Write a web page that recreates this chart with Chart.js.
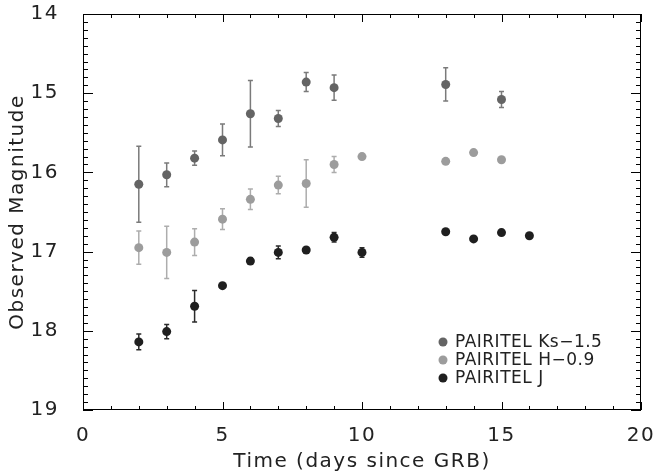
<!DOCTYPE html>
<html>
<head>
<meta charset="utf-8">
<script src="https://cdn.jsdelivr.net/npm/chart.js@4.4.1/dist/chart.umd.min.js"></script>
<style>
  html, body { margin: 0; padding: 0; background: #fff; }
</style>
</head>
<body>
<canvas id="lc" width="657" height="476"></canvas>
<script>
// Ks band (shifted by -1.5)
const ksDays = [2, 3, 4, 5, 6, 7, 8, 9, 13, 15];
const ksMag = [16.15, 16.03, 15.82, 15.59, 15.26, 15.32, 14.86, 14.93, 14.89, 15.08];
const ksErr = [0.48, 0.15, 0.09, 0.20, 0.42, 0.10, 0.12, 0.16, 0.21, 0.10];

// H band (shifted by -0.9)
const hDays = [2, 3, 4, 5, 6, 7, 8, 9, 10, 13, 14, 15];
const hMag = [16.95, 17.01, 16.88, 16.59, 16.34, 16.16, 16.14, 15.90, 15.80, 15.86, 15.75, 15.84];
const hErr = [0.21, 0.33, 0.17, 0.13, 0.13, 0.11, 0.30, 0.10, 0, 0, 0, 0];

// J band
const jDays = [2, 3, 4, 5, 6, 7, 8, 9, 10, 13, 14, 15, 16];
const jMag = [18.14, 18.01, 17.69, 17.43, 17.12, 17.01, 16.98, 16.82, 17.01, 16.75, 16.84, 16.76, 16.80];
const jErr = [0.10, 0.09, 0.20, 0, 0.04, 0.08, 0, 0.06, 0.06, 0, 0, 0, 0];

const seriesLabels = ['PAIRITEL Ks\u22121.5', 'PAIRITEL H\u22120.9', 'PAIRITEL J'];
const xTicks = [0, 5, 10, 15, 20];
const yTicks = [14, 15, 16, 17, 18, 19];

const FONT = 'DejaVu Sans';
const INK = '#222';

function pts(days, mags, errs) {
    return days.map((d, i) => ({ x: d, y: mags[i], err: errs[i] }));
}

// error bars drawn under the points, via the chart scales
const errorBars = {
    id: 'errorBars',
    beforeDatasetsDraw(chart) {
        const ctx = chart.ctx;
        const xs = chart.scales.x, ys = chart.scales.y;
        chart.data.datasets.forEach(ds => {
            ctx.save();
            ctx.strokeStyle = ds.errColor;
            ctx.lineWidth = 1.5;
            ds.data.forEach(p => {
                if (!p.err) return;
                const px = xs.getPixelForValue(p.x);
                const y1 = ys.getPixelForValue(p.y - p.err);
                const y2 = ys.getPixelForValue(p.y + p.err);
                ctx.beginPath();
                ctx.moveTo(px, y1); ctx.lineTo(px, y2);
                ctx.moveTo(px - 2.5, y1); ctx.lineTo(px + 2.5, y1);
                ctx.moveTo(px - 2.5, y2); ctx.lineTo(px + 2.5, y2);
                ctx.stroke();
            });
            ctx.restore();
        });
    }
};

// box around the plot with inward major/minor ticks on all sides
const frame = {
    id: 'frame',
    beforeDraw(chart) {
        chart.ctx.letterSpacing = '1.5px';
    },
    afterDraw(chart) {
        const ctx = chart.ctx;
        const { left, right, top, bottom } = chart.chartArea;
        const xs = chart.scales.x, ys = chart.scales.y;
        ctx.save();
        ctx.strokeStyle = '#000';
        ctx.lineWidth = 1;
        ctx.strokeRect(left + 0.5, top + 0.5, right - left - 1, bottom - top - 1);
        ctx.beginPath();
        for (let v = 0; v <= 20; v++) {
            const px = Math.round(xs.getPixelForValue(v)) + 0.5;
            const len = v % 5 === 0 ? 8 : 4;
            ctx.moveTo(px, bottom); ctx.lineTo(px, bottom - len);
            ctx.moveTo(px, top); ctx.lineTo(px, top + len);
        }
        for (let k = 140; k <= 190; k++) {
            const py = Math.round(ys.getPixelForValue(k / 10)) + 0.5;
            const len = k % 10 === 0 ? 10 : 5;
            ctx.moveTo(left, py); ctx.lineTo(left + len, py);
            ctx.moveTo(right, py); ctx.lineTo(right - len, py);
        }
        ctx.stroke();

        // legend inside the plot
        const lx = left + 360, ly = top + 328;
        ctx.font = '17px "' + FONT + '"';
        ctx.letterSpacing = '0.5px';
        ctx.textBaseline = 'middle';
        ctx.textAlign = 'left';
        chart.data.datasets.forEach((ds, i) => {
            const y = ly + i * 18;
            ctx.fillStyle = ds.backgroundColor;
            ctx.beginPath();
            ctx.arc(lx, y, 4.5, 0, Math.PI * 2);
            ctx.fill();
            ctx.fillStyle = INK;
            ctx.fillText(ds.label, lx + 12, y + 1);
        });
        ctx.restore();
    }
};

const datasets = [
    { label: seriesLabels[0], data: pts(ksDays, ksMag, ksErr), backgroundColor: '#646464', errColor: '#7a7a7a' },
    { label: seriesLabels[1], data: pts(hDays, hMag, hErr), backgroundColor: '#9c9c9c', errColor: '#adadad' },
    { label: seriesLabels[2], data: pts(jDays, jMag, jErr), backgroundColor: '#1f1f1f', errColor: '#2a2a2a' }
].map(ds => Object.assign(ds, { pointRadius: 4.5, pointBorderWidth: 0, borderColor: ds.backgroundColor, showLine: false }));

new Chart(document.getElementById('lc').getContext('2d'), {
    type: 'scatter',
    data: { datasets },
    plugins: [errorBars, frame],
    options: {
        responsive: false,
        animation: false,
        devicePixelRatio: 1,
        layout: { padding: { top: 14, right: 16, left: 0, bottom: 0 } },
        plugins: { legend: { display: false }, tooltip: { enabled: false } },
        scales: {
            x: {
                type: 'linear', min: 0, max: 20,
                afterBuildTicks: s => { s.ticks = xTicks.map(v => ({ value: v })); },
                afterFit: s => { s.height = 66; s.paddingLeft = 0; s.paddingRight = 0; },
                grid: { display: false, drawTicks: false },
                border: { display: false },
                ticks: { padding: 14, color: INK, font: { family: FONT, size: 20 } },
                title: { display: true, text: 'Time (days since GRB)', color: INK, padding: { top: 0, bottom: 2 }, font: { family: FONT, size: 20 } }
            },
            y: {
                type: 'linear', min: 14, max: 19, reverse: true,
                afterBuildTicks: s => { s.ticks = yTicks.map(v => ({ value: v })); },
                afterFit: s => { s.width = 83; s.paddingTop = 0; s.paddingBottom = 0; },
                grid: { display: false, drawTicks: false },
                border: { display: false },
                ticks: { padding: 24, color: INK, font: { family: FONT, size: 20 } },
                title: { display: true, text: 'Observed Magnitude', color: INK, padding: { top: 6, bottom: 0 }, font: { family: FONT, size: 20 } }
            }
        }
    }
});
</script>
</body>
</html>
